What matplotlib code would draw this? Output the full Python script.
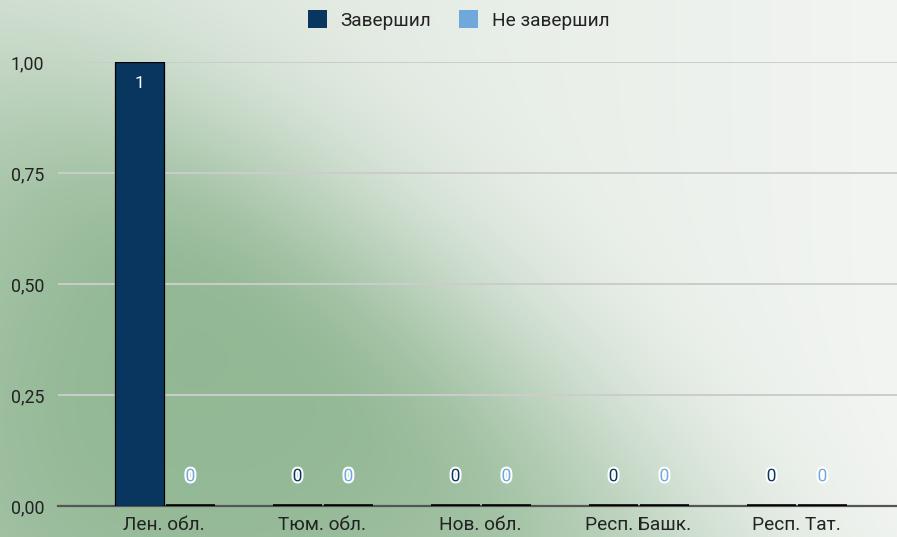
import numpy as np
import matplotlib
matplotlib.use("Agg")
import matplotlib.pyplot as plt
import matplotlib.patheffects as pe
from matplotlib.patches import Patch

categories = ["Лен. обл.", "Тюм. обл.", "Нов. обл.", "Респ. Башк.", "Респ. Тат."]
completed = [1, 0, 0, 0, 0]
not_completed = [0, 0, 0, 0, 0]
series_names = ["Завершил", "Не завершил"]
yticks = [0.0, 0.25, 0.5, 0.75, 1.0]
ytick_labels = ["0,00", "0,25", "0,50", "0,75", "1,00"]

DARK = "#08365f"
LIGHT = "#6fa8dc"

plt.rcParams['font.family'] = ['Roboto', 'DejaVu Sans']

W, H = 897, 537
fig = plt.figure(figsize=(W / 100, H / 100), dpi=100)

# background gradient
bg = fig.add_axes([0, 0, 1, 1], zorder=-10)
yy, xx = np.mgrid[0:H, 0:W].astype(float)
t = xx / W
base = np.stack([0.86 + 0.09 * t, 0.90 + 0.06 * t, 0.86 + 0.09 * t], axis=-1)
green = np.array([0.54, 0.70, 0.55])
cx, cy, ang = 210, 350, np.deg2rad(35)
dx, dy = xx - cx, yy - cy
u = dx * np.cos(ang) + dy * np.sin(ang)
v = -dx * np.sin(ang) + dy * np.cos(ang)
ru = np.where(u < 0, 380.0, 600.0)
rv = np.where(v < 0, 210.0, 520.0)
r2 = (u / ru) ** 2 + (v / rv) ** 2
w = 0.9 * np.exp(-r2 ** 1.3)
img = base * (1 - w[..., None]) + green * w[..., None]
bg.imshow(np.clip(img, 0, 1), aspect='auto', extent=[0, 1, 0, 1], origin='upper')
bg.axis('off')

ax = fig.add_axes([58 / W, 31 / H, 1 - 58 / W, (506 - 62) / H])
ax.patch.set_alpha(0)
x = np.arange(len(categories))
bw = 0.305
off = 0.155
lw1 = [0.9 if v else 2.6 for v in completed]
lw2 = [0.9 if v else 2.6 for v in not_completed]
b1 = ax.bar(x - off, completed, bw, color=DARK, edgecolor="black", linewidth=lw1, zorder=3)
b2 = ax.bar(x + off + 0.012, not_completed, bw, color=LIGHT, edgecolor="black", linewidth=lw2, zorder=3)

stroke = [pe.withStroke(linewidth=3, foreground="white")]
for xs, vals, col in [(x - off, completed, DARK), (x + off + 0.012, not_completed, LIGHT)]:
    for xi, v in zip(xs, vals):
        if v > 0:
            ax.text(xi, v - 0.048, str(v), ha='center', va='center', color='white',
                    fontsize=12.5, zorder=5)
        else:
            ax.text(xi, 0.066, str(v), ha='center', va='center', color=col, fontsize=12.5,
                    path_effects=stroke, zorder=5)

ax.set_xlim(-0.671, 4.639)
ax.set_ylim(0, 1)
ax.set_yticks(yticks)
ax.set_yticklabels(ytick_labels, fontsize=12.8, color="#222222")
ax.set_xticks(x)
ax.set_xticklabels(categories, fontsize=13.7, color="#222222")
ax.tick_params(axis='both', length=0)
ax.tick_params(axis='y', pad=10)
ax.tick_params(axis='x', pad=7)
ax.grid(axis='y', color="#cccccc", linewidth=1.4, zorder=0)
ax.set_axisbelow(True)
for s in ['top', 'right', 'left']:
    ax.spines[s].set_visible(False)
ax.spines['bottom'].set_color("#555555")
ax.spines['bottom'].set_linewidth(1.6)
ax.spines['bottom'].set_zorder(2)

handles = [Patch(facecolor=DARK, edgecolor='none'), Patch(facecolor=LIGHT, edgecolor='none')]
fig.legend(handles, series_names, loc='center', bbox_to_anchor=(458.5 / W, 1 - 20 / H),
           ncol=2, frameon=False, fontsize=13.7, handlelength=1.0, handleheight=1.0,
           handletextpad=0.7, columnspacing=1.5, labelcolor="#222222")

fig.savefig("out.png", dpi=100)
